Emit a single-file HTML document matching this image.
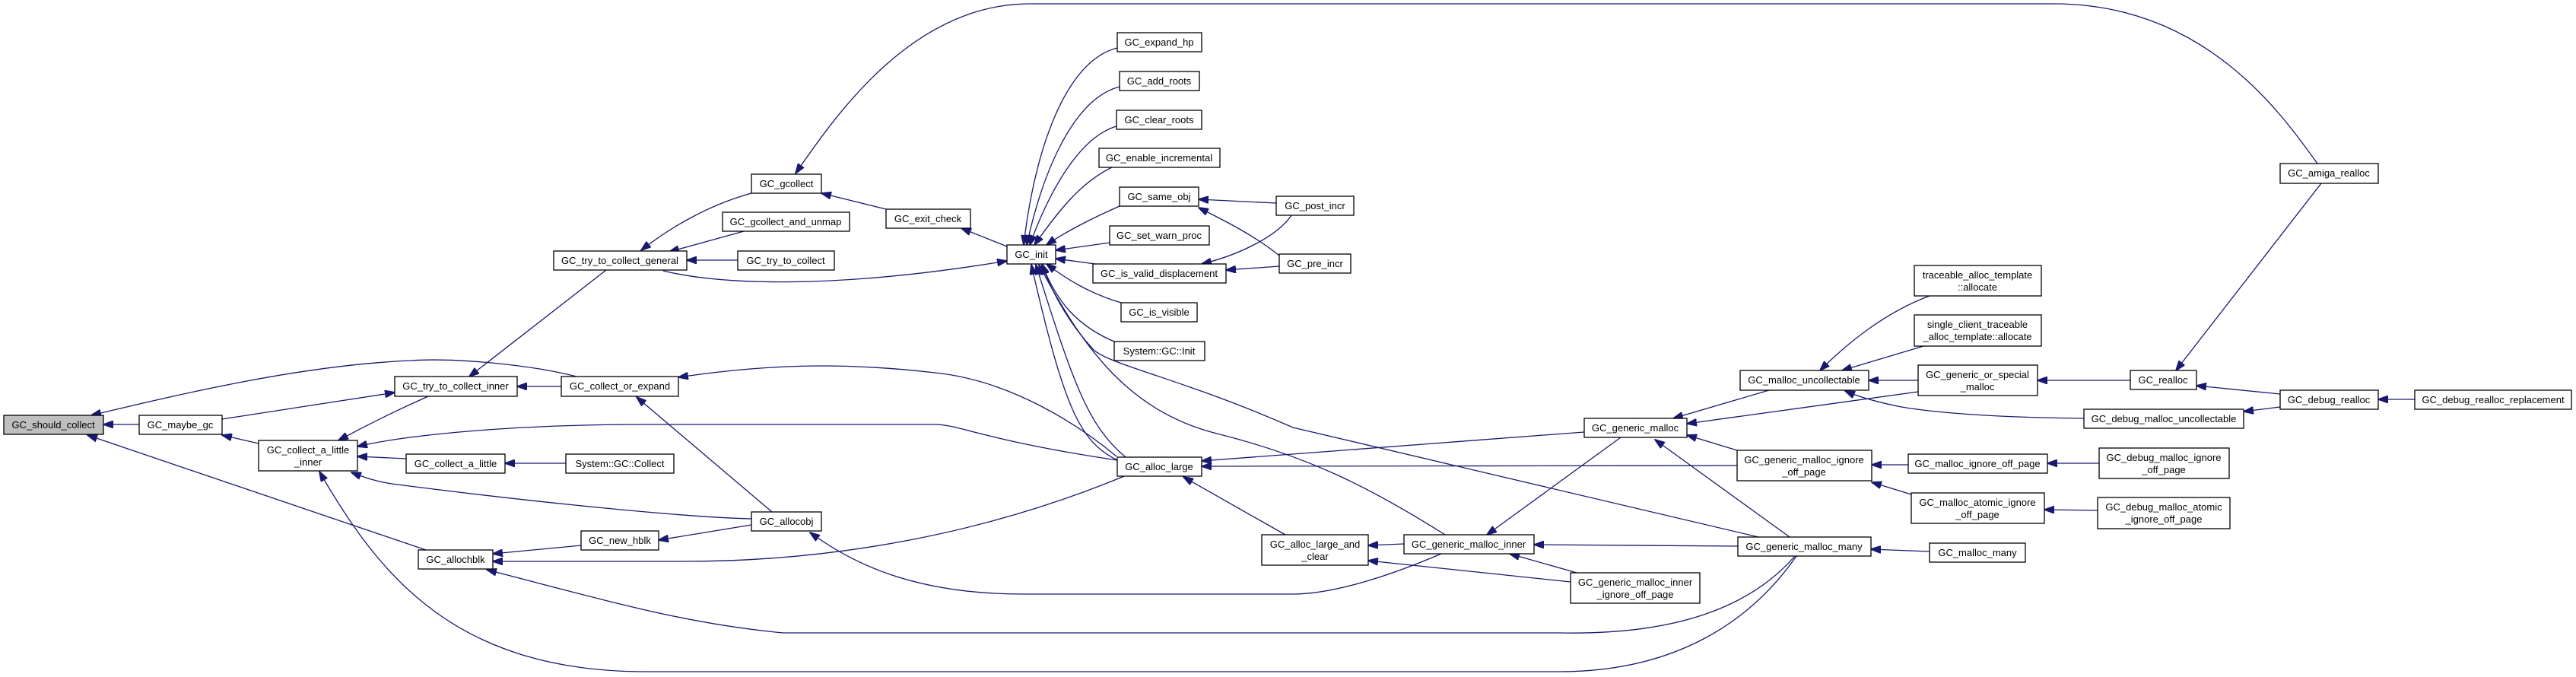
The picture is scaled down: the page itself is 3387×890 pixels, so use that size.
<!DOCTYPE html>
<html><head><meta charset="utf-8"><style>
html,body{margin:0;padding:0;background:#fff;}
svg{display:block;}
text{font-family:"Liberation Sans",sans-serif;font-size:13px;fill:#000;text-anchor:middle;}
rect{fill:#fff;stroke:#000;stroke-width:1.3;}
path{fill:none;stroke:#191970;stroke-width:1.3;}
</style></head><body>
<svg width="3387" height="890" viewBox="0 0 3387 890" xmlns="http://www.w3.org/2000/svg">
<defs><marker id="a" markerWidth="14" markerHeight="10" refX="13" refY="5" orient="auto" markerUnits="userSpaceOnUse"><polygon points="0,0 14,5 0,10" fill="#191970" stroke="#191970"/></marker></defs>
<g marker-end="url(#a)">
<path d="M183,558 L136,558"/>
<path d="M758,495 C700,480 600,470 540,474 C400,480 250,515 120,546"/>
<path d="M560,723 L115,572"/>
<path d="M292,551 L519,516"/>
<path d="M340,583 L292,572"/>
<path d="M563,521 C520,540 480,560 445,579"/>
<path d="M797,355 L617,495"/>
<path d="M738,508 L680,508"/>
<path d="M1469,605 C1300,580 1260,558 1230,558 L850,558 C650,558 520,575 470,587"/>
<path d="M534,603 L470,600"/>
<path d="M988,682 C900,680 700,660 515,636 C495,633 480,628 462,621"/>
<path d="M2362,731 C2300,820 2200,883 2050,883 L850,883 C600,883 500,759 420,620"/>
<path d="M744,609 L664,609"/>
<path d="M988,254 C930,270 880,300 843,329"/>
<path d="M978,304 L880,331"/>
<path d="M970,342 L903,342"/>
<path d="M872,356 C950,375 1100,380 1324,343"/>
<path d="M1165,275 L1080,254"/>
<path d="M1324,324 L1264,300"/>
<path d="M3047,215 C3000,150 2900,5 2700,5 L1354,5 C1200,5 1100,150 1046,228"/>
<path d="M1469,63 C1400,80 1360,200 1346,322"/>
<path d="M1472,114 C1410,130 1370,230 1350,322"/>
<path d="M1468,166 C1420,180 1380,250 1354,322"/>
<path d="M1462,220 C1420,240 1390,280 1360,322"/>
<path d="M1472,271 C1440,285 1400,305 1376,322"/>
<path d="M1459,319 L1388,329"/>
<path d="M1440,347 L1388,340"/>
<path d="M1474,398 C1430,385 1400,365 1376,347"/>
<path d="M1465,449 C1420,430 1390,400 1370,347"/>
<path d="M1469,605 C1420,580 1400,540 1356,348"/>
<path d="M1480,601 C1430,560 1410,500 1362,348"/>
<path d="M1900,703 C1800,640 1720,600 1600,570 C1480,540 1420,450 1366,348"/>
<path d="M2312,706 L1700,562 C1560,500 1460,480 1438,460 C1410,430 1385,390 1370,348"/>
<path d="M1690,703 L1556,627"/>
<path d="M2083,568 L1580,606"/>
<path d="M2284,612 L1580,613"/>
<path d="M1478,626 C1300,700 1100,738 900,738 L648,738"/>
<path d="M764,717 L648,728"/>
<path d="M2360,731 C2300,800 2200,835 2050,832 L1030,832 C900,820 800,790 640,749"/>
<path d="M988,690 L866,710"/>
<path d="M1015,673 L837,522"/>
<path d="M1468,600 C1420,560 1330,500 1229,490 C1100,475 1000,480 892,496"/>
<path d="M1846,715 L1799,717"/>
<path d="M2065,765 L1799,737"/>
<path d="M1895,728 C1820,760 1750,781 1700,781 L1345,781 C1200,781 1120,740 1065,700"/>
<path d="M2073,753 L1985,728"/>
<path d="M2285,718 L2017,716"/>
<path d="M2131,575 L1955,703"/>
<path d="M2353,706 L2176,578"/>
<path d="M2284,592 L2218,572"/>
<path d="M2326,513 L2200,550"/>
<path d="M2522,515 L2218,557"/>
<path d="M2537,389 C2480,410 2430,450 2393,487"/>
<path d="M2529,455 L2422,487"/>
<path d="M2522,500 L2457,500"/>
<path d="M2740,550 C2650,549 2560,545 2500,535 C2460,527 2440,520 2426,514"/>
<path d="M2509,611 L2461,611"/>
<path d="M2513,650 L2461,634"/>
<path d="M2537,725 L2460,722"/>
<path d="M2801,500 L2679,500"/>
<path d="M3052,241 L2861,487"/>
<path d="M2998,518 L2888,507"/>
<path d="M2998,535 L2950,541"/>
<path d="M3175,525 L3127,525"/>
<path d="M2760,609 L2692,609"/>
<path d="M2758,671 L2688,670"/>
<path d="M1678,267 L1576,262"/>
<path d="M1682,336 C1650,310 1610,290 1576,273"/>
<path d="M1698,283 C1680,310 1630,335 1580,347"/>
<path d="M1682,350 L1612,355"/>
</g>
<g>
<rect x="5" y="546" width="131" height="25" style="fill:#bfbfbf"/><text x="70" y="563">GC_should_collect</text>
<rect x="183" y="546" width="109" height="25"/><text x="237" y="563">GC_maybe_gc</text>
<rect x="340" y="579" width="130" height="40"/><text x="405" y="596">GC_collect_a_little</text><text x="405" y="612">_inner</text>
<rect x="519" y="495" width="161" height="26"/><text x="599" y="512">GC_try_to_collect_inner</text>
<rect x="738" y="495" width="154" height="26"/><text x="815" y="512">GC_collect_or_expand</text>
<rect x="728" y="330" width="175" height="25"/><text x="815" y="347">GC_try_to_collect_general</text>
<rect x="534" y="597" width="130" height="25"/><text x="599" y="614">GC_collect_a_little</text>
<rect x="744" y="597" width="142" height="25"/><text x="815" y="614">System::GC::Collect</text>
<rect x="764" y="698" width="102" height="25"/><text x="815" y="715">GC_new_hblk</text>
<rect x="550" y="723" width="98" height="25"/><text x="599" y="740">GC_allochblk</text>
<rect x="988" y="229" width="92" height="25"/><text x="1034" y="246">GC_gcollect</text>
<rect x="950" y="279" width="167" height="25"/><text x="1033" y="296">GC_gcollect_and_unmap</text>
<rect x="970" y="330" width="127" height="25"/><text x="1033" y="347">GC_try_to_collect</text>
<rect x="1165" y="275" width="111" height="25"/><text x="1220" y="292">GC_exit_check</text>
<rect x="1324" y="322" width="64" height="25"/><text x="1356" y="339">GC_init</text>
<rect x="1469" y="43" width="111" height="25"/><text x="1524" y="60">GC_expand_hp</text>
<rect x="1472" y="94" width="105" height="25"/><text x="1524" y="111">GC_add_roots</text>
<rect x="1468" y="145" width="112" height="25"/><text x="1524" y="162">GC_clear_roots</text>
<rect x="1445" y="195" width="159" height="25"/><text x="1524" y="212">GC_enable_incremental</text>
<rect x="1472" y="246" width="104" height="25"/><text x="1524" y="263">GC_same_obj</text>
<rect x="1459" y="297" width="131" height="25"/><text x="1524" y="314">GC_set_warn_proc</text>
<rect x="1437" y="347" width="175" height="25"/><text x="1524" y="364">GC_is_valid_displacement</text>
<rect x="1474" y="398" width="100" height="25"/><text x="1524" y="415">GC_is_visible</text>
<rect x="1465" y="449" width="119" height="25"/><text x="1524" y="466">System::GC::Init</text>
<rect x="1469" y="601" width="111" height="25"/><text x="1524" y="618">GC_alloc_large</text>
<rect x="988" y="673" width="92" height="25"/><text x="1034" y="690">GC_allocobj</text>
<rect x="1659" y="703" width="140" height="40"/><text x="1729" y="720">GC_alloc_large_and</text><text x="1729" y="736">_clear</text>
<rect x="1678" y="258" width="102" height="25"/><text x="1729" y="275">GC_post_incr</text>
<rect x="1682" y="334" width="94" height="25"/><text x="1729" y="351">GC_pre_incr</text>
<rect x="1846" y="703" width="171" height="25"/><text x="1931" y="720">GC_generic_malloc_inner</text>
<rect x="2083" y="550" width="135" height="25"/><text x="2150" y="567">GC_generic_malloc</text>
<rect x="2065" y="753" width="170" height="40"/><text x="2150" y="770">GC_generic_malloc_inner</text><text x="2150" y="786">_ignore_off_page</text>
<rect x="2288" y="487" width="169" height="26"/><text x="2372" y="504">GC_malloc_uncollectable</text>
<rect x="2284" y="592" width="177" height="40"/><text x="2372" y="609">GC_generic_malloc_ignore</text><text x="2372" y="625">_off_page</text>
<rect x="2285" y="706" width="175" height="25"/><text x="2372" y="723">GC_generic_malloc_many</text>
<rect x="2517" y="349" width="167" height="40"/><text x="2600" y="366">traceable_alloc_template</text><text x="2600" y="382">::allocate</text>
<rect x="2517" y="414" width="167" height="41"/><text x="2600" y="431">single_client_traceable</text><text x="2600" y="447">_alloc_template::allocate</text>
<rect x="2522" y="480" width="157" height="40"/><text x="2600" y="497">GC_generic_or_special</text><text x="2600" y="513">_malloc</text>
<rect x="2509" y="597" width="183" height="25"/><text x="2600" y="614">GC_malloc_ignore_off_page</text>
<rect x="2513" y="648" width="175" height="40"/><text x="2600" y="665">GC_malloc_atomic_ignore</text><text x="2600" y="681">_off_page</text>
<rect x="2537" y="714" width="126" height="25"/><text x="2600" y="731">GC_malloc_many</text>
<rect x="2801" y="487" width="87" height="25"/><text x="2844" y="504">GC_realloc</text>
<rect x="2740" y="538" width="210" height="25"/><text x="2845" y="555">GC_debug_malloc_uncollectable</text>
<rect x="2760" y="589" width="171" height="40"/><text x="2845" y="606">GC_debug_malloc_ignore</text><text x="2845" y="622">_off_page</text>
<rect x="2758" y="654" width="174" height="41"/><text x="2845" y="671">GC_debug_malloc_atomic</text><text x="2845" y="687">_ignore_off_page</text>
<rect x="2998" y="215" width="129" height="26"/><text x="3062" y="232">GC_amiga_realloc</text>
<rect x="2998" y="513" width="129" height="25"/><text x="3062" y="530">GC_debug_realloc</text>
<rect x="3175" y="513" width="206" height="25"/><text x="3278" y="530">GC_debug_realloc_replacement</text>
</g>
</svg>
</body></html>
